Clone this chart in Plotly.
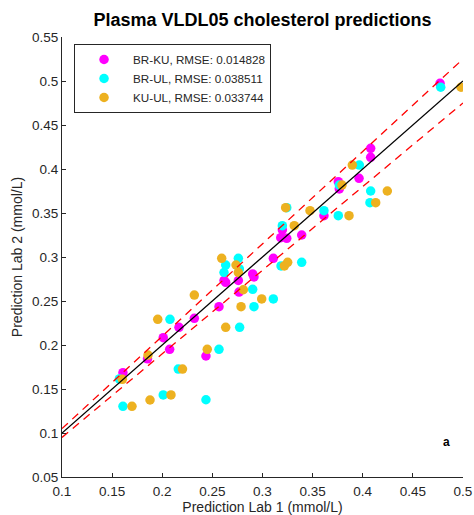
import plotly.graph_objects as go

# ---- data ----
br_ku_x = [0.1608, 0.1853, 0.2010, 0.2074, 0.2167, 0.2320, 0.2436, 0.2566, 0.2616, 0.2633,
           0.2759, 0.2766, 0.2902, 0.2915, 0.3108, 0.3198, 0.3182, 0.3242, 0.3391, 0.3613,
           0.3756, 0.3766, 0.3963, 0.4079, 0.4079, 0.4771]
br_ku_y = [0.1685, 0.1843, 0.2083, 0.1951, 0.2201, 0.2303, 0.1875, 0.2435, 0.2733, 0.2712,
           0.2733, 0.2602, 0.2807, 0.2773, 0.2985, 0.3307, 0.3219, 0.3212, 0.3250, 0.3469,
           0.3856, 0.3773, 0.3894, 0.4235, 0.4133, 0.4974]

br_ul_x = [0.1572, 0.1608, 0.2010, 0.2077, 0.2160, 0.2436, 0.2566, 0.2616, 0.2633, 0.2759,
           0.2769, 0.2772, 0.2902, 0.2915, 0.3108, 0.3185, 0.3198, 0.3242, 0.3391, 0.3613,
           0.3756, 0.3766, 0.3966, 0.4079, 0.4072, 0.4778]
br_ul_y = [0.1614, 0.1303, 0.1432, 0.2292, 0.1727, 0.1378, 0.1951, 0.2824, 0.2909, 0.2985,
           0.2865, 0.2201, 0.2633, 0.2435, 0.2523, 0.2898, 0.3356, 0.3560, 0.2940, 0.3526,
           0.3469, 0.3818, 0.4045, 0.3750, 0.3617, 0.4929]

ku_ul_x = [0.1602, 0.1698, 0.1858, 0.1878, 0.1955, 0.2087, 0.2202, 0.2320, 0.2449, 0.2593,
           0.2633, 0.2736, 0.2759, 0.2786, 0.2809, 0.2992, 0.3218, 0.3251, 0.3231, 0.3317,
           0.3474, 0.3793, 0.3863, 0.3896, 0.4129, 0.4245, 0.4980]
ku_ul_y = [0.1610, 0.1303, 0.1886, 0.1375, 0.2292, 0.1432, 0.1727, 0.2568, 0.1951, 0.2985,
           0.2201, 0.2909, 0.2824, 0.2435, 0.2628, 0.2523, 0.2898, 0.2940, 0.3560, 0.3356,
           0.3526, 0.3818, 0.3469, 0.4045, 0.3617, 0.3750, 0.4929]

series_names = ["BR-KU, RMSE: 0.014828", "BR-UL, RMSE: 0.038511", "KU-UL, RMSE: 0.033744"]
series_colors = ["#FF00FF", "#00FFFF", "#EDB120"]

ref_x = [0.1, 0.5]          # identity line extent
tol = 0.05                  # +/- 5 % band

x_ticks = [0.1, 0.15, 0.2, 0.25, 0.3, 0.35, 0.4, 0.45, 0.5]
x_tick_labels = ["0.1", "0.15", "0.2", "0.25", "0.3", "0.35", "0.4", "0.45", "0.5"]
y_ticks = [0.05, 0.1, 0.15, 0.2, 0.25, 0.3, 0.35, 0.4, 0.45, 0.5, 0.55]
y_tick_labels = ["0.05", "0.1", "0.15", "0.2", "0.25", "0.3", "0.35", "0.4", "0.45", "0.5", "0.55"]

FONT = "Liberation Sans, Arial, Helvetica, sans-serif"
TXT = "#262626"

W, H = 474, 515

fig = go.Figure()
for xs, ys, name, col in zip([br_ku_x, br_ul_x, ku_ul_x], [br_ku_y, br_ul_y, ku_ul_y],
                             series_names, series_colors):
    fig.add_trace(go.Scatter(x=xs, y=ys, mode="markers", name=name,
                             marker=dict(color=col, size=9.5, line=dict(width=0))))

fig.add_trace(go.Scatter(x=ref_x, y=ref_x, mode="lines", showlegend=False,
                         line=dict(color="black", width=1.3)))
fig.add_trace(go.Scatter(x=ref_x, y=[v * (1 + tol) for v in ref_x], mode="lines", showlegend=False,
                         line=dict(color="#FF0000", width=1.3, dash="8px,6px")))
fig.add_trace(go.Scatter(x=ref_x, y=[v * (1 - tol) for v in ref_x], mode="lines", showlegend=False,
                         line=dict(color="#FF0000", width=1.3, dash="8px,6px")))

fig.add_annotation(x=0.4837, y=0.0903, xref="x", yref="y", text="<b>a</b>", showarrow=False,
                   font=dict(family=FONT, size=12, color="black"))

axis_common = dict(showline=True, linecolor=TXT, linewidth=1, mirror=False, showgrid=False,
                   zeroline=False, ticks="inside", ticklen=4, tickcolor=TXT, tickwidth=1,
                   automargin=False,
                   tickfont=dict(family=FONT, size=13.5, color=TXT))

fig.update_layout(
    width=W, height=H,
    margin=dict(l=62, r=11, t=37, b=38, autoexpand=False),
    paper_bgcolor="white", plot_bgcolor="white",
    title=dict(text="Plasma VLDL05 cholesterol predictions", x=0.5, xref="paper",
               y=1 - 20 / H, yref="container", xanchor="center", yanchor="middle",
               font=dict(family=FONT, size=18, color="black", weight="bold")),
    xaxis=dict(range=[0.1, 0.5], tickvals=x_ticks, ticktext=x_tick_labels, ticklabelstandoff=2,
               title=dict(text="Prediction Lab 1 (mmol/L)", standoff=0,
                          font=dict(family=FONT, size=14, color=TXT)), **axis_common),
    yaxis=dict(range=[0.05, 0.55], tickvals=y_ticks, ticktext=y_tick_labels,
               title=dict(text="Prediction Lab 2 (mmol/L)", standoff=6,
                          font=dict(family=FONT, size=14, color=TXT)), **axis_common),
    legend=dict(x=0.03, y=1 - 7 / 440, xanchor="left", yanchor="top", xref="paper", yref="paper",
                bgcolor="white", bordercolor="#262626", borderwidth=1, itemwidth=48,
                font=dict(family=FONT, size=11.7, color=TXT)),
    showlegend=True,
    hovermode=False,
)

# remove the browser's default 8px page margin so the figure fills the window exactly
fig.write_html("out.html", config={"displayModeBar": False, "staticPlot": True},
               post_script="document.body.style.margin='0';")
